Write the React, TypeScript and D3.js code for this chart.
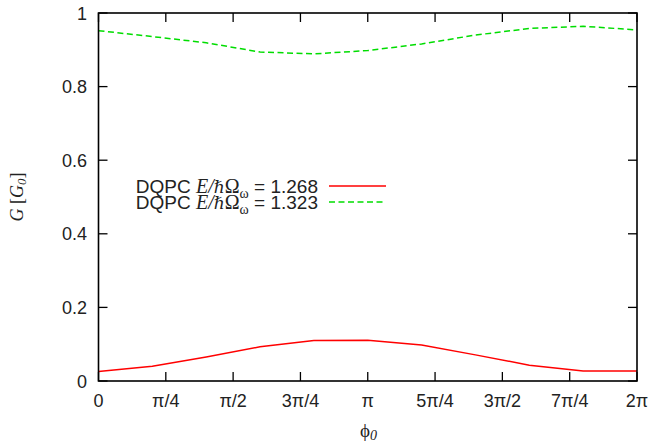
import React from 'react';
import * as d3 from 'd3';

// phase phi_0 in radians, conductance G in units of G_0
const phi = [0, 0.628, 1.257, 1.885, 2.513, 3.142, 3.770, 4.398, 5.027, 5.655, 6.283];
const gLow = [0.026, 0.040, 0.065, 0.093, 0.110, 0.111, 0.098, 0.071, 0.043, 0.027, 0.027];
const gHigh = [0.952, 0.936, 0.919, 0.894, 0.889, 0.898, 0.916, 0.940, 0.958, 0.964, 0.954];

const xTickLabels = ['0', 'π/4', 'π/2', '3π/4', 'π', '5π/4', '3π/2', '7π/4', '2π'];
const yTicks = [0, 0.2, 0.4, 0.6, 0.8, 1];
const energies = ['1.268', '1.323'];

const W = 648, H = 442;
const left = 98.5, right = 637, top = 13, bottom = 381;
const sans = '"Liberation Sans", Arial, Helvetica, sans-serif';
const serif = '"Liberation Serif", "Times New Roman", serif';

const App = () => {
    const x = d3.scaleLinear().domain([0, 2 * Math.PI]).range([left, right]);
    const y = d3.scaleLinear().domain([0, 1]).range([bottom, top]);
    const xTicks = xTickLabels.map((_, i) => (i * Math.PI) / 4);

    const line = d3.line<number>()
        .x((d, i) => x(phi[i]))
        .y(d => y(d));

    const series = [
        { values: gLow, color: '#ff0000', dash: undefined },
        { values: gHigh, color: '#00dd00', dash: '6,3.5' },
    ];
    const tick = 9;
    const fs = 18;

    return (
        <svg width={W} height={H} style={{ position: 'fixed', left: 0, top: 0, background: '#fff' }}>
            {/* curves */}
            {series.map((s, i) => (
                <path key={i} d={line(s.values) || ''} fill="none" stroke={s.color}
                    strokeWidth={1.5} strokeDasharray={s.dash} />
            ))}

            {/* frame */}
            <rect x={left} y={top} width={right - left} height={bottom - top}
                fill="none" stroke="#000" strokeWidth={1.6} />

            {/* x ticks */}
            {xTicks.map((t, i) => (
                <g key={'x' + i}>
                    <line x1={x(t)} x2={x(t)} y1={bottom} y2={bottom - tick} stroke="#000" strokeWidth={1.3} />
                    <line x1={x(t)} x2={x(t)} y1={top} y2={top + tick} stroke="#000" strokeWidth={1.3} />
                    <text x={x(t)} y={406.5} textAnchor="middle" fontFamily={sans} fontSize={fs} fill="#222">
                        {xTickLabels[i]}
                    </text>
                </g>
            ))}

            {/* y ticks */}
            {yTicks.map((t, i) => (
                <g key={'y' + i}>
                    <line x1={left} x2={left + tick} y1={y(t)} y2={y(t)} stroke="#000" strokeWidth={1.3} />
                    <line x1={right} x2={right - tick} y1={y(t)} y2={y(t)} stroke="#000" strokeWidth={1.3} />
                    <text x={87} y={y(t) + 6.5} textAnchor="end" fontFamily={sans} fontSize={fs} fill="#222">
                        {d3.format('~g')(t)}
                    </text>
                </g>
            ))}

            {/* axis labels */}
            <text x={360} y={437} fontFamily={serif} fontSize={19} fill="#222">
                ϕ<tspan fontStyle="italic" fontSize={14} dy={3}>0</tspan>
            </text>
            <text transform="translate(23,197) rotate(-90)" textAnchor="middle" fontFamily={serif} fontSize={18} fill="#222">
                <tspan fontStyle="italic">G</tspan> [<tspan fontStyle="italic">G</tspan>
                <tspan fontStyle="italic" fontSize={13} dy={3}>0</tspan><tspan dy={-3}>]</tspan>
            </text>

            {/* legend */}
            {series.map((s, i) => {
                const ly = 186 + i * 16;
                return (
                    <g key={'l' + i}>
                        <text x={318} y={ly + 7} textAnchor="end" fontFamily={sans} fontSize={19} fill="#222">
                            DQPC <tspan fontFamily={serif} fontStyle="italic" fontSize={20}>E/</tspan>
                            <tspan fontFamily='"DejaVu Serif", serif' fontSize={17}>ℏ</tspan>
                            <tspan fontFamily={serif} fontSize={20}>Ω</tspan>
                            <tspan fontFamily={serif} fontSize={14} dy={5}>ω</tspan>
                            <tspan dy={-5}> = {energies[i]}</tspan>
                        </text>
                        <line x1={329} x2={386} y1={ly} y2={ly} stroke={s.color}
                            strokeWidth={1.5} strokeDasharray={s.dash} />
                    </g>
                );
            })}
        </svg>
    );
};

export default App;
